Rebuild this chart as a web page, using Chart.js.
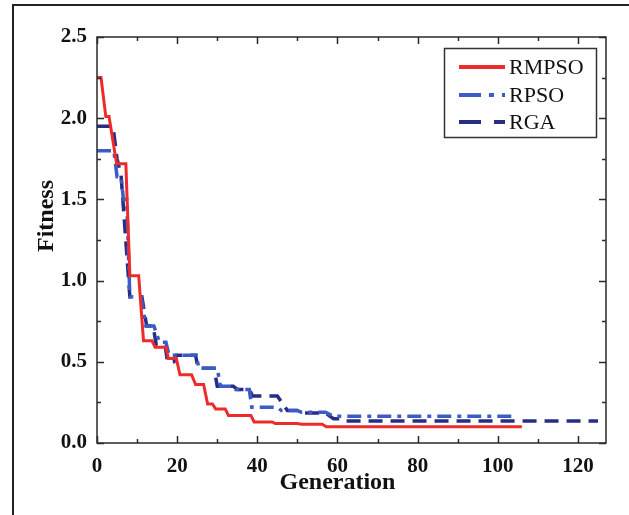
<!DOCTYPE html>
<html>
<head>
<meta charset="utf-8">
<script src="https://cdn.jsdelivr.net/npm/chart.js@4/dist/chart.umd.min.js"></script>
<style>
html,body{margin:0;padding:0;background:#fff;}
#wrap{position:absolute;left:0;top:0;width:629px;height:515px;}
</style>
</head>
<body>
<div id="wrap"><canvas id="c" width="629" height="515"></canvas></div>
<script>
// ---- data ----
const rmpsoX = [0, 1, 2.2, 3.0, 4.9, 7.2, 8.2, 10.4, 11.6, 13.7, 14.5, 17.2, 17.8, 19.8, 20.7, 23.6, 24.6, 26.6, 27.6, 28.8, 29.6, 32.0, 32.8, 38.4, 39.2, 43.7, 44.5, 50.0, 51.0, 56.2, 57.2, 106];
const rmpsoY = [2.25, 2.25, 2.01, 2.01, 1.72, 1.72, 1.03, 1.03, 0.63, 0.63, 0.59, 0.59, 0.52, 0.52, 0.42, 0.42, 0.36, 0.36, 0.24, 0.24, 0.21, 0.21, 0.17, 0.17, 0.13, 0.13, 0.12, 0.12, 0.115, 0.115, 0.10, 0.10];

const rpsoX = [0, 4.2, 5.0, 6.0, 6.6, 7.4, 8.2, 11.0, 12.2, 14.2, 15.6, 17.2, 18.0, 24.8, 25.4, 30.0, 30.8, 34.0, 34.6, 38.0, 38.6, 45.0, 46.0, 50.0, 51.0, 57.0, 59.0, 104];
const rpsoY = [1.80, 1.80, 1.64, 1.64, 1.50, 1.50, 0.90, 0.90, 0.72, 0.72, 0.62, 0.62, 0.54, 0.54, 0.46, 0.46, 0.35, 0.35, 0.33, 0.33, 0.22, 0.22, 0.20, 0.20, 0.19, 0.19, 0.165, 0.165];

const rgaX = [0, 4.0, 5.0, 6.0, 8.2, 11.2, 12.4, 14.0, 14.8, 17.0, 17.6, 19.2, 19.8, 24.6, 25.2, 29.2, 30.0, 34.0, 35.0, 38.0, 38.8, 45.0, 47.5, 50.5, 51.5, 57.0, 59.0, 61.0, 62.0, 125];
const rgaY = [1.95, 1.95, 1.75, 1.65, 0.90, 0.90, 0.72, 0.72, 0.60, 0.60, 0.50, 0.50, 0.54, 0.54, 0.46, 0.46, 0.35, 0.35, 0.33, 0.33, 0.29, 0.29, 0.20, 0.20, 0.185, 0.185, 0.15, 0.15, 0.135, 0.135];

const seriesNames = ["RMPSO", "RPSO", "RGA"];
const xTickValues = [0, 20, 40, 60, 80, 100, 120];
const yTickValues = [0.0, 0.5, 1.0, 1.5, 2.0, 2.5];

const pts = (xs, ys) => xs.map((x, i) => ({x: x, y: ys[i]}));

const FONT = "'Liberation Serif','Times New Roman',serif";

const decor = {
  id: 'decor',
  beforeDraw(chart) {
    const ctx = chart.ctx;
    ctx.save();
    ctx.strokeStyle = '#222';
    ctx.lineWidth = 2;
    ctx.beginPath();
    ctx.moveTo(13, 520);
    ctx.lineTo(13, 5);
    ctx.lineTo(640, 5);
    ctx.stroke();
    ctx.restore();
  },
  afterDatasetsDraw(chart) {
    const ctx = chart.ctx;
    const a = chart.chartArea;
    const xs = chart.scales.x, ys = chart.scales.y;
    ctx.save();
    ctx.strokeStyle = '#2a2a2a';
    ctx.lineWidth = 1.5;
    ctx.strokeRect(a.left, a.top, a.right - a.left, a.bottom - a.top);
    ctx.beginPath();
    for (let v = 0; v <= 120; v += 10) {
      const p = Math.round(xs.getPixelForValue(v)) + 0.5;
      const len = (v % 20 === 0) ? 7 : 4;
      ctx.moveTo(p, a.bottom); ctx.lineTo(p, a.bottom - len);
      ctx.moveTo(p, a.top); ctx.lineTo(p, a.top + len);
    }
    for (let v = 0; v <= 2.5001; v += 0.25) {
      const p = Math.round(ys.getPixelForValue(v)) + 0.5;
      const len = (Math.abs(v / 0.5 - Math.round(v / 0.5)) < 1e-6) ? 7 : 4;
      ctx.moveTo(a.left, p); ctx.lineTo(a.left + len, p);
      ctx.moveTo(a.right, p); ctx.lineTo(a.right - len, p);
    }
    ctx.stroke();

    // axis titles
    ctx.fillStyle = '#111';
    ctx.font = "bold 24px " + FONT;
    ctx.textAlign = 'center';
    ctx.textBaseline = 'alphabetic';
    ctx.fillText('Generation', xs.getPixelForValue(60), 489);
    ctx.save();
    ctx.translate(53, 216);
    ctx.rotate(-Math.PI / 2);
    ctx.fillText('Fitness', 0, 0);
    ctx.restore();

    // legend
    const bx = 444.5, by = 48.5, bw = 152, bh = 89;
    ctx.lineWidth = 1.5;
    ctx.strokeStyle = '#333';
    ctx.strokeRect(bx, by, bw, bh);
    const rows = [67, 95, 122];
    chart.data.datasets.forEach((ds, i) => {
      ctx.save();
      ctx.strokeStyle = ds.borderColor;
      ctx.lineWidth = 4;
      ctx.setLineDash(ds.legendDash || []);
      ctx.beginPath();
      ctx.moveTo(459, rows[i]);
      ctx.lineTo(505, rows[i]);
      ctx.stroke();
      ctx.restore();
      ctx.fillStyle = '#111';
      ctx.font = "22px " + FONT;
      ctx.textAlign = 'left';
      ctx.textBaseline = 'middle';
      ctx.fillText(ds.label, 509, rows[i] + 1);
    });
    ctx.restore();
  }
};

new Chart(document.getElementById('c'), {
  type: 'line',
  data: {
    datasets: [
      {label: seriesNames[0], data: pts(rmpsoX, rmpsoY), borderColor: '#ee2b2b', borderWidth: 3, pointRadius: 0, fill: false, tension: 0, legendDash: []},
      {label: seriesNames[1], data: pts(rpsoX, rpsoY), borderColor: '#3b5cc4', borderWidth: 3.5, pointRadius: 0, fill: false, tension: 0, borderDash: [14, 6, 4, 6], legendDash: [22, 8, 5, 8]},
      {label: seriesNames[2], data: pts(rgaX, rgaY), borderColor: '#282d84', borderWidth: 3.5, pointRadius: 0, fill: false, tension: 0, borderDash: [14, 8], legendDash: [22, 13]}
    ]
  },
  options: {
    responsive: false,
    animation: false,
    layout: {padding: {left: 0, top: 37, right: 23, bottom: 0}},
    plugins: {legend: {display: false}, tooltip: {enabled: false}},
    scales: {
      x: {
        type: 'linear', min: 0, max: 127,
        afterBuildTicks: s => { s.ticks = xTickValues.map(v => ({value: v})); },
        afterFit: s => { s.height = 72; },
        grid: {display: false},
        border: {display: false},
        ticks: {padding: 3, color: '#111', font: {family: FONT, size: 21, weight: 'bold'}, maxRotation: 0,
                callback: v => String(v)}
      },
      y: {
        type: 'linear', min: 0, max: 2.5,
        afterBuildTicks: s => { s.ticks = yTickValues.map(v => ({value: v})); },
        afterFit: s => { s.width = 97; },
        grid: {display: false},
        border: {display: false},
        ticks: {padding: 2, color: '#111', font: {family: FONT, size: 21, weight: 'bold'},
                callback: v => Number(v).toFixed(1)}
      }
    }
  },
  plugins: [decor]
});
</script>
</body>
</html>
